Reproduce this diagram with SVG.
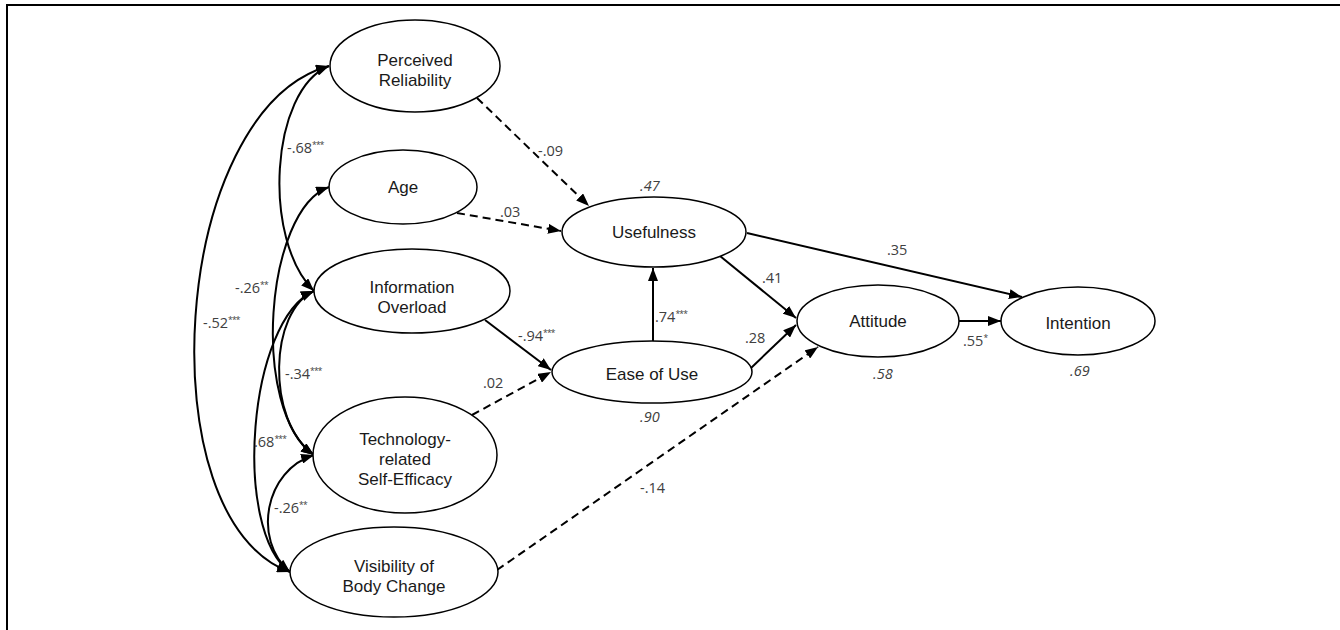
<svg xmlns="http://www.w3.org/2000/svg" width="1340" height="630" viewBox="0 0 1340 630">
<defs>
<marker id="ah" markerUnits="userSpaceOnUse" markerWidth="14" markerHeight="10" viewBox="0 0 14 10" refX="13" refY="5" orient="auto-start-reverse">
<path d="M0,0 L13,5 L0,10 z" fill="#000"/>
</marker>
</defs>
<style>
.node ellipse{fill:#fff;stroke:#000;stroke-width:1.5}
.node text{font-family:"Liberation Sans",Arial,sans-serif;font-size:17px;fill:#1a1a1a;text-anchor:middle}
.edge{fill:none;stroke:#000;stroke-width:2;marker-end:url(#ah)}
.dash{stroke-dasharray:8 5}
.corr{fill:none;stroke:#000;stroke-width:2;marker-start:url(#ah);marker-end:url(#ah)}
.lbl{font-family:"Open Sans","DejaVu Sans",sans-serif;font-size:14.5px;fill:#404040}
.it{font-style:italic}
.st{font-size:8.5px;letter-spacing:-0.8px}
.frame{fill:none;stroke:#000;stroke-width:2}
</style>
<path class="frame" d="M7,630 L7,5 L1340,5"/>
<g id="connectors">
<path class="corr" d="M329,66 C270,90 262,240 314,291"/>
<path class="corr" d="M329,66 C170,110 145,520 290,572"/>
<path class="corr" d="M329,187 C265,210 250,410 314,455"/>
<path class="corr" d="M314,291 C270,310 265,420 314,455"/>
<path class="corr" d="M314,291 C248,320 232,530 290,572"/>
<path class="corr" d="M314,455 C265,470 252,540 290,572"/>
<path class="edge dash" d="M477,98 L589,206"/>
<path class="edge dash" d="M457,213 L561,231"/>
<path class="edge" d="M485,320 L551,370"/>
<path class="edge dash" d="M472,415 L551,372"/>
<path class="edge dash" d="M497,570 L818,347"/>
<path class="edge" d="M653,341 L653,268"/>
<path class="edge" d="M720,256 L796,318"/>
<path class="edge" d="M751,368 L796,325"/>
<path class="edge" d="M747,233 L1022,297"/>
<path class="edge" d="M959,321 L1001,321"/>
</g>
<g id="labels">
<text class="lbl" x="287" y="153">-.68<tspan class="st" dy="-5">***</tspan></text>
<text class="lbl" x="235" y="293">-.26<tspan class="st" dy="-5">**</tspan></text>
<text class="lbl" x="203" y="328">-.52<tspan class="st" dy="-5">***</tspan></text>
<text class="lbl" x="285" y="379">-.34<tspan class="st" dy="-5">***</tspan></text>
<text class="lbl" x="254" y="447">.68<tspan class="st" dy="-5">***</tspan></text>
<text class="lbl" x="274" y="513">-.26<tspan class="st" dy="-5">**</tspan></text>
<text class="lbl" x="538" y="156">-.09</text>
<text class="lbl" x="500" y="217">.03</text>
<text class="lbl" x="518" y="341">-.94<tspan class="st" dy="-5">***</tspan></text>
<text class="lbl" x="483" y="388">.02</text>
<text class="lbl" x="640" y="493">-.14</text>
<text class="lbl" x="655" y="322">.74<tspan class="st" dy="-5">***</tspan></text>
<text class="lbl" x="762" y="283">.41</text>
<text class="lbl" x="745" y="343">.28</text>
<text class="lbl" x="887" y="255">.35</text>
<text class="lbl" x="963" y="346">.55<tspan class="st" dy="-5">*</tspan></text>
<text class="lbl it" x="640" y="191">.47</text>
<text class="lbl it" x="640" y="422">.90</text>
<text class="lbl it" x="873" y="379">.58</text>
<text class="lbl it" x="1070" y="376">.69</text>
</g>
<g id="node-reliability" class="node">
<ellipse cx="415" cy="66" rx="85" ry="46"/>
<text x="415" y="66">Perceived</text>
<text x="415" y="86">Reliability</text>
</g>
<g id="node-age" class="node">
<ellipse cx="403" cy="187" rx="74" ry="37"/>
<text x="403" y="193">Age</text>
</g>
<g id="node-overload" class="node">
<ellipse cx="412" cy="291" rx="98" ry="42"/>
<text x="412" y="293">Information</text>
<text x="412" y="313">Overload</text>
</g>
<g id="node-selfefficacy" class="node">
<ellipse cx="405" cy="455" rx="92" ry="58"/>
<text x="405" y="445">Technology-</text>
<text x="405" y="465">related</text>
<text x="405" y="485">Self-Efficacy</text>
</g>
<g id="node-visibility" class="node">
<ellipse cx="394" cy="572" rx="104" ry="45"/>
<text x="394" y="572">Visibility of</text>
<text x="394" y="592">Body Change</text>
</g>
<g id="node-usefulness" class="node">
<ellipse cx="654" cy="232" rx="92" ry="35"/>
<text x="654" y="238">Usefulness</text>
</g>
<g id="node-ease" class="node">
<ellipse cx="652" cy="372" rx="100" ry="31"/>
<text x="652" y="380">Ease of Use</text>
</g>
<g id="node-attitude" class="node">
<ellipse cx="878" cy="321" rx="81" ry="36"/>
<text x="878" y="327">Attitude</text>
</g>
<g id="node-intention" class="node">
<ellipse cx="1078" cy="321" rx="77" ry="34"/>
<text x="1078" y="329">Intention</text>
</g>
</svg>
